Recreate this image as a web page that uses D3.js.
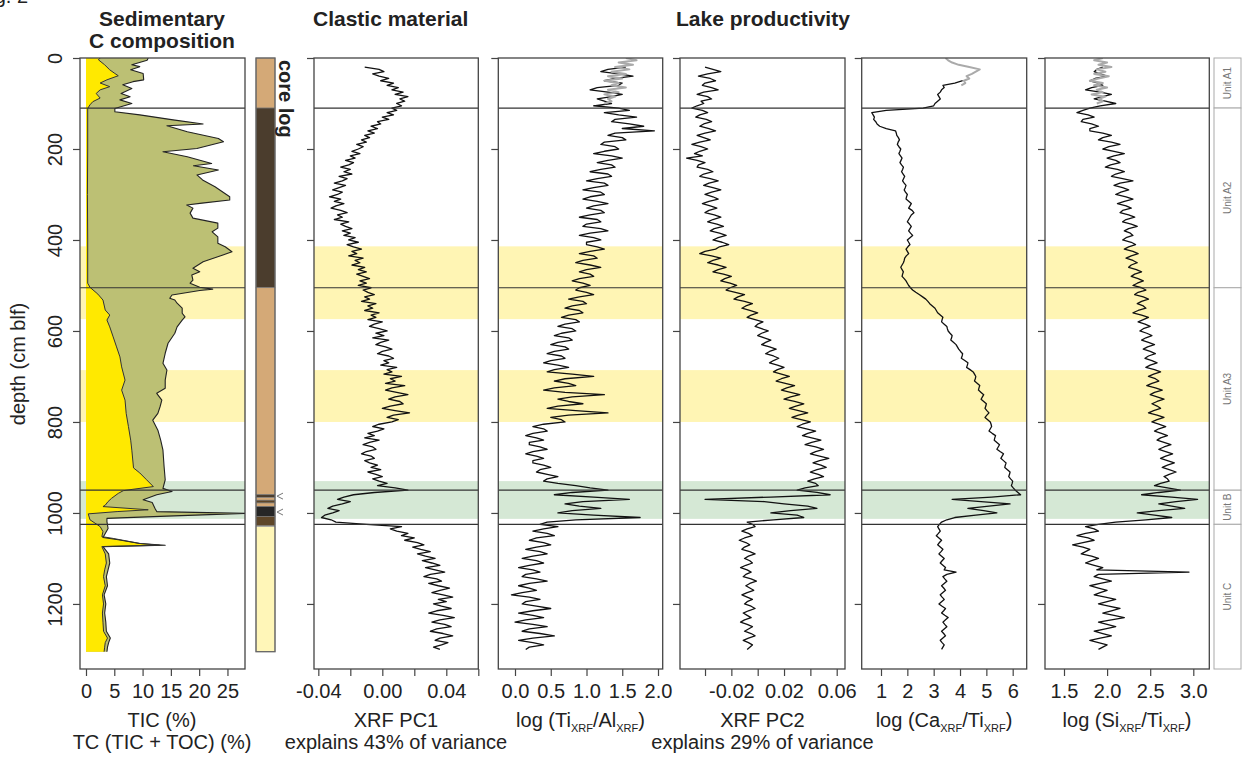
<!DOCTYPE html>
<html><head><meta charset="utf-8">
<script src="https://cdn.jsdelivr.net/npm/d3@7"></script>
<style>
body{margin:0;background:#fff}
svg{display:block}
text{font-family:"Liberation Sans",Arial,Helvetica,sans-serif;fill:#222}
</style>
</head><body>
<svg id="c" width="1246" height="767"></svg>
<script>
// ---------------- DATA ----------------
const depthTicks = [0,200,400,600,800,1000,1200];
const depthTickLabels = ["0","200","400","600","800","1000","1200"];

const unitNames  = ["Unit A1","Unit A2","Unit A3","Unit B","Unit C"];
const unitTop    = [0,110,505,950,1025];
const unitBottom = [110,505,950,1025,1343];
const unitBounds = [110,505,950,1025];

const bandTop    = [414,686,930];
const bandBottom = [574,800,1013];
const bandType   = ["yellow","yellow","green"];

const coreTop    = [0,110,505,960,966,972,978,986,1008,1030];
const coreBottom = [110,505,960,966,972,978,986,1008,1028,1305];
const coreType   = ["tan","dark","tan","dark","tan","brown","tan","black","brown","pale"];
const coreMarks  = [963,998];

// Sedimentary C composition
const tcDepth = [0,5,15,19,26,34,48,52,59,67,78,85,92,100,111,118,125,136,145,149,162,177,184,199,206,217,232,237,246,257,268,283,305,312,319,323,330,341,352,363,374,382,393,407,415,426,433,448,462,470,477,488,495,504,508,511,521,528,532,539,550,561,569,576,591,605,627,649,671,686,708,726,737,752,766,781,796,818,840,862,898,927,946,953,960,971,977,990,997,1001,1007,1012,1019,1034,1045,1054,1059,1067,1071,1074,1090,1110,1125,1140,1160,1180,1200,1220,1240,1260,1275,1285,1295,1305];
const tcValue = [11.0,10.8,8.1,9.5,7.9,10.1,10.2,8.3,6.5,8.1,6.2,7.8,6.0,8.1,5.1,5.1,9.5,15.4,20.7,14.3,17.9,23.4,24.3,19.6,13.6,17.9,22.2,19.0,23.4,19.6,20.6,22.8,25.4,25.4,20.5,17.8,18.9,18.4,18.9,23.3,23.3,22.3,23.3,23.3,24.6,25.8,24.2,20.7,18.9,20.1,18.7,18.9,18.4,20.1,22.4,20.1,15.2,14.8,15.7,16.1,17.0,17.0,17.5,17.0,16.1,15.7,14.5,14.0,13.6,14.3,14.0,14.0,12.5,13.4,13.1,12.7,11.8,12.7,13.2,13.6,13.8,14.0,13.6,15.2,12.5,10.1,11.7,12.2,12.5,28.1,14.3,3.7,3.7,3.9,3.4,3.0,5.7,9.5,14.0,3.0,4.0,4.2,3.9,3.6,3.8,3.2,3.5,3.3,3.5,3.6,4.3,4.0,3.8,3.7];
const ticDepth = [0,4,15,26,34,39,48,55,63,70,78,88,96,103,111,200,300,400,495,504,519,532,554,565,576,591,613,635,657,679,708,730,752,781,810,840,862,901,912,927,942,948,951,957,968,975,983,986,993,997,1002,1015,1030,1041,1052,1056,1067,1071,1074,1090,1110,1125,1140,1160,1180,1200,1220,1240,1260,1275,1285,1295,1305];
const ticValue = [2.5,2.2,3.3,4.2,5.1,5.7,3.7,2.5,4.2,2.5,1.8,2.5,1.2,0.7,0.3,0.3,0.25,0.3,0.3,0.7,2.1,3.0,3.4,4.2,3.7,4.2,4.8,5.4,6.0,6.3,6.9,6.3,6.9,7.1,7.5,7.9,8.1,8.4,9.5,10.7,11.9,8.3,6.6,5.7,4.5,3.9,3.4,3.0,11.0,5.5,0.4,0.7,2.5,3.0,2.8,4.8,9.5,13.0,2.8,3.4,3.6,3.3,3.1,3.4,2.9,3.1,2.9,3.0,3.1,3.8,3.4,3.3,3.2];

// XRF series (black), sampled every 5 cm
const xrfDepth = [
 20,25,30,35,40,45,50,55,60,65,70,75,80,85,90,95,100,105,110,115,
 120,125,130,135,140,145,150,155,160,165,170,175,180,185,190,195,200,205,210,215,
 220,225,230,235,240,245,250,255,260,265,270,275,280,285,290,295,300,305,310,315,
 320,325,330,335,340,345,350,355,360,365,370,375,380,385,390,395,400,405,410,415,
 420,425,430,435,440,445,450,455,460,465,470,475,480,485,490,495,500,505,510,515,
 520,525,530,535,540,545,550,555,560,565,570,575,580,585,590,595,600,605,610,615,
 620,625,630,635,640,645,650,655,660,665,670,675,680,685,690,695,700,705,710,715,
 720,725,730,735,740,745,750,755,760,765,770,775,780,785,790,795,800,805,810,815,
 820,825,830,835,840,845,850,855,860,865,870,875,880,885,890,895,900,905,910,915,
 920,925,930,935,940,945,950,955,960,965,970,975,980,985,990,995,1000,1005,1010,1015,
 1020,1025,1030,1035,1040,1045,1050,1055,1060,1065,1070,1075,1080,1085,1090,1095,1100,1105,1110,1115,
 1120,1125,1130,1135,1140,1145,1150,1155,1160,1165,1170,1175,1180,1185,1190,1195,1200,1205,1210,1215,
 1220,1225,1230,1235,1240,1245,1250,1255,1260,1265,1270,1275,1280,1285,1290,1295,1300];
const pc1 = [
 -0.011,-0.002,0.001,-0.006,-0.002,0.004,-0.001,0.007,0.003,0.010,0.006,0.013,0.008,0.016,0.011,0.014,0.009,0.012,0.006,0.009,
 0.003,0.007,0.000,0.004,-0.003,-0.001,-0.007,-0.003,-0.009,-0.005,-0.011,-0.008,-0.013,-0.010,-0.016,-0.012,-0.015,-0.019,-0.014,-0.020,
 -0.017,-0.023,-0.018,-0.021,-0.026,-0.020,-0.024,-0.019,-0.027,-0.022,-0.025,-0.030,-0.023,-0.027,-0.031,-0.025,-0.028,-0.033,-0.026,-0.030,
 -0.024,-0.029,-0.032,-0.026,-0.022,-0.028,-0.025,-0.030,-0.021,-0.026,-0.023,-0.019,-0.025,-0.020,-0.024,-0.017,-0.021,-0.015,-0.022,-0.018,
 -0.013,-0.019,-0.016,-0.021,-0.012,-0.017,-0.014,-0.019,-0.011,-0.015,-0.010,-0.016,-0.012,-0.008,-0.014,-0.010,-0.015,-0.007,-0.012,-0.009,
 -0.005,-0.011,-0.008,-0.013,-0.004,-0.009,-0.006,-0.011,-0.002,-0.007,-0.004,-0.009,0.000,-0.005,-0.008,-0.002,0.003,-0.004,0.001,-0.006,
 0.004,-0.001,-0.004,0.002,0.006,0.000,-0.003,0.004,0.007,0.001,0.004,-0.001,0.009,0.003,0.006,0.001,0.012,0.005,0.008,0.002,
 0.014,0.006,0.002,0.009,0.016,0.008,0.004,0.011,0.013,0.005,0.000,0.008,0.017,0.007,0.003,0.010,0.006,-0.002,-0.006,0.001,
 -0.003,-0.009,-0.005,-0.011,-0.002,-0.008,-0.012,-0.006,-0.004,-0.010,-0.013,-0.007,-0.005,-0.011,-0.008,-0.003,-0.007,-0.001,-0.009,-0.004,
 0.000,-0.006,-0.002,0.003,-0.003,0.008,0.016,-0.005,-0.018,-0.024,-0.028,-0.020,-0.025,-0.031,-0.034,-0.027,-0.031,-0.036,-0.038,-0.032,
 -0.029,-0.010,0.012,0.005,0.009,0.016,0.012,0.020,0.014,0.022,0.026,0.019,0.024,0.030,0.022,0.027,0.033,0.025,0.031,0.036,
 0.027,0.033,0.039,0.030,0.026,0.034,0.037,0.029,0.035,0.042,0.036,0.031,0.038,0.044,0.035,0.040,0.032,0.037,0.043,0.034,
 0.029,0.038,0.045,0.036,0.031,0.039,0.043,0.034,0.030,0.038,0.044,0.036,0.033,0.041,0.037,0.032,0.036];
const tiAl = [
 1.55,1.30,1.20,1.45,1.65,1.40,1.25,1.50,1.45,1.15,1.05,1.30,1.50,1.35,1.15,1.25,1.35,1.10,1.45,1.60,
 1.25,1.45,1.70,1.40,1.35,1.60,1.80,1.50,1.95,1.40,1.30,1.50,1.55,1.25,1.20,1.40,1.45,1.25,1.10,1.35,
 1.50,1.30,1.15,1.35,1.40,1.20,1.05,1.30,1.35,1.15,1.00,1.25,1.30,1.10,0.95,1.20,1.25,1.05,0.95,1.15,
 1.30,1.10,1.00,1.20,1.25,1.05,0.90,1.15,1.20,1.00,0.95,1.20,1.30,1.05,0.90,1.10,1.20,1.00,1.00,1.15,
 1.25,1.05,0.90,1.10,1.15,0.95,0.85,1.05,1.20,1.00,0.90,1.05,1.10,0.90,0.80,0.95,1.05,0.90,0.85,1.00,
 1.10,0.90,0.75,0.95,1.00,0.80,0.70,0.90,0.95,0.75,0.65,0.85,0.90,0.70,0.60,0.80,0.85,0.65,0.55,0.75,
 0.80,0.60,0.50,0.70,0.75,0.55,0.45,0.65,0.70,0.50,0.40,0.60,0.75,0.55,0.45,0.80,1.10,0.70,0.55,0.75,
 0.85,0.55,0.40,0.70,1.25,0.80,0.60,0.75,0.95,0.60,0.45,0.85,1.30,0.75,0.50,0.65,0.70,0.40,0.25,0.40,
 0.45,0.25,0.15,0.30,0.40,0.20,0.20,0.35,0.45,0.25,0.15,0.30,0.40,0.25,0.25,0.40,0.50,0.35,0.30,0.45,
 0.60,0.45,0.40,0.60,0.85,1.05,1.30,0.80,0.55,1.10,1.60,0.95,0.70,0.90,1.20,0.80,0.60,1.10,1.75,0.85,
 0.45,0.35,0.60,0.40,0.25,0.45,0.55,0.30,0.20,0.40,0.50,0.30,0.15,0.35,0.45,0.25,0.10,0.30,0.40,0.20,
 0.05,0.25,0.35,0.15,0.10,0.30,0.45,0.20,0.05,0.20,0.30,0.10,-0.05,0.20,0.35,0.15,0.10,0.30,0.50,0.25,
 0.05,0.25,0.40,0.15,0.00,0.25,0.45,0.20,0.10,0.35,0.55,0.25,0.05,0.25,0.40,0.20,0.15];
const pc2 = [
 -0.040,-0.034,-0.028,-0.038,-0.045,-0.036,-0.032,-0.040,-0.042,-0.035,-0.030,-0.041,-0.046,-0.038,-0.035,-0.043,-0.041,-0.046,-0.050,-0.042,
 -0.038,-0.044,-0.047,-0.039,-0.035,-0.041,-0.044,-0.037,-0.032,-0.040,-0.046,-0.041,-0.036,-0.044,-0.050,-0.043,-0.038,-0.044,-0.048,-0.042,
 -0.054,-0.046,-0.040,-0.045,-0.046,-0.038,-0.034,-0.041,-0.044,-0.036,-0.030,-0.037,-0.041,-0.034,-0.028,-0.035,-0.040,-0.034,-0.030,-0.037,
 -0.042,-0.036,-0.031,-0.037,-0.040,-0.033,-0.028,-0.034,-0.038,-0.031,-0.026,-0.033,-0.036,-0.029,-0.024,-0.030,-0.034,-0.027,-0.022,-0.029,
 -0.032,-0.040,-0.044,-0.035,-0.028,-0.034,-0.038,-0.030,-0.024,-0.030,-0.034,-0.026,-0.020,-0.025,-0.028,-0.021,-0.016,-0.021,-0.024,-0.017,
 -0.010,-0.015,-0.018,-0.010,-0.004,-0.009,-0.012,-0.006,0.000,-0.005,-0.008,-0.002,0.004,0.000,-0.002,0.003,0.008,0.003,0.000,0.005,
 0.010,0.006,0.003,0.009,0.014,0.009,0.006,0.012,0.016,0.012,0.009,0.015,0.020,0.015,0.012,0.018,0.024,0.018,0.014,0.021,
 0.028,0.022,0.018,0.025,0.032,0.025,0.020,0.028,0.035,0.029,0.024,0.031,0.038,0.031,0.026,0.033,0.040,0.034,0.030,0.037,
 0.044,0.038,0.034,0.041,0.048,0.041,0.036,0.044,0.050,0.044,0.040,0.047,0.054,0.047,0.042,0.048,0.052,0.045,0.040,0.046,
 0.050,0.043,0.038,0.044,0.046,0.036,0.030,0.045,0.055,0.010,-0.040,0.005,0.020,0.038,0.045,0.025,0.010,0.030,0.035,0.012,
 -0.008,-0.004,-0.002,-0.008,-0.012,-0.007,-0.004,-0.010,-0.014,-0.009,-0.006,-0.010,-0.012,-0.006,-0.002,-0.007,-0.010,-0.006,-0.004,-0.009,
 -0.013,-0.008,-0.005,-0.009,-0.011,-0.005,-0.001,-0.006,-0.009,-0.006,-0.003,-0.008,-0.012,-0.008,-0.004,-0.008,-0.010,-0.005,-0.002,-0.007,
 -0.011,-0.008,-0.005,-0.010,-0.013,-0.008,-0.004,-0.007,-0.010,-0.005,-0.002,-0.007,-0.011,-0.007,-0.004,-0.006,-0.008];
const caTi = [
 null,null,null,null,null,null,4.10,3.80,3.35,3.40,3.30,3.25,3.15,3.20,3.25,3.15,3.05,3.00,2.60,1.20,
 0.65,0.70,0.75,0.72,0.80,0.85,0.95,1.20,1.55,1.58,1.60,1.66,1.70,1.65,1.62,1.68,1.75,1.72,1.68,1.74,
 1.80,1.76,1.72,1.78,1.85,1.82,1.78,1.84,1.90,1.86,1.82,1.88,1.95,1.92,1.88,1.93,2.00,1.97,1.95,2.05,
 2.15,2.10,2.05,2.18,2.25,2.15,2.10,2.05,2.00,2.08,2.15,2.10,2.05,2.12,2.20,2.10,2.00,2.05,2.10,2.02,
 1.95,2.00,2.05,1.96,1.90,1.88,1.85,1.80,1.75,1.80,1.85,1.82,1.80,1.88,1.95,2.00,2.05,2.12,2.20,2.32,
 2.45,2.58,2.70,2.78,2.85,2.95,3.05,3.10,3.15,3.25,3.35,3.32,3.30,3.40,3.50,3.52,3.55,3.62,3.70,3.68,
 3.65,3.75,3.85,3.90,3.95,4.02,4.10,4.08,4.05,4.18,4.30,4.28,4.25,4.38,4.50,4.55,4.60,4.58,4.55,4.65,
 4.75,4.72,4.70,4.80,4.90,4.85,4.80,4.90,5.00,4.98,4.95,5.02,5.10,5.02,4.95,5.05,5.15,5.18,5.20,5.15,
 5.10,5.22,5.35,5.32,5.30,5.40,5.50,5.45,5.40,5.52,5.65,5.60,5.55,5.65,5.75,5.72,5.70,5.80,5.90,5.88,
 5.85,5.92,6.00,5.98,5.95,6.02,6.10,6.20,6.30,5.20,3.70,4.80,5.90,5.10,4.30,4.90,5.40,4.60,3.80,3.50,
 3.30,3.22,3.15,3.20,3.25,3.18,3.10,3.20,3.30,3.22,3.15,3.25,3.35,3.28,3.20,3.30,3.40,3.32,3.25,3.35,
 3.45,3.40,3.85,3.50,3.35,3.42,3.50,3.40,3.30,3.38,3.45,3.35,3.25,3.32,3.40,3.30,3.20,3.32,3.45,3.38,
 3.30,3.42,3.55,3.45,3.35,3.42,3.50,3.40,3.30,3.38,3.45,3.35,3.25,3.32,3.40,3.35,3.30];
const siTi = [
 1.95,1.88,1.85,1.92,2.00,1.86,1.80,1.90,1.95,1.82,1.75,1.92,2.05,1.95,1.85,1.98,2.10,1.92,1.80,1.72,
 1.65,1.78,1.85,1.72,1.70,1.82,1.90,1.80,1.80,1.95,2.05,1.95,1.90,2.05,2.15,2.02,1.95,2.08,2.20,2.08,
 2.00,2.10,2.15,2.04,1.98,2.12,2.20,2.10,2.05,2.18,2.30,2.15,2.08,2.18,2.25,2.16,2.10,2.22,2.30,2.20,
 2.12,2.22,2.28,2.18,2.15,2.25,2.32,2.22,2.18,2.28,2.35,2.25,2.20,2.27,2.30,2.22,2.18,2.28,2.33,2.25,
 2.20,2.30,2.36,2.28,2.22,2.30,2.35,2.28,2.25,2.34,2.40,2.32,2.28,2.36,2.42,2.35,2.30,2.40,2.45,2.36,
 2.32,2.42,2.48,2.40,2.35,2.42,2.45,2.36,2.30,2.40,2.48,2.42,2.36,2.44,2.50,2.42,2.38,2.46,2.52,2.45,
 2.40,2.48,2.55,2.47,2.42,2.50,2.56,2.48,2.44,2.52,2.58,2.50,2.45,2.55,2.62,2.54,2.48,2.56,2.60,2.52,
 2.46,2.56,2.64,2.55,2.50,2.58,2.66,2.58,2.52,2.58,2.62,2.54,2.48,2.58,2.66,2.58,2.52,2.60,2.68,2.60,
 2.55,2.63,2.70,2.62,2.58,2.66,2.74,2.66,2.60,2.68,2.76,2.68,2.62,2.70,2.78,2.70,2.64,2.72,2.80,2.72,
 2.66,2.70,2.72,2.62,2.55,2.70,2.85,2.60,2.40,2.75,3.05,2.80,2.60,2.75,2.90,2.60,2.35,2.55,2.75,2.45,
 2.10,1.90,1.75,1.85,1.90,1.75,1.65,1.78,1.85,1.72,1.60,1.72,1.80,1.75,1.70,1.82,1.90,1.82,1.75,1.85,
 1.95,1.88,2.95,1.90,1.85,1.95,2.05,1.92,1.80,1.90,2.00,1.92,1.85,1.98,2.10,2.00,1.90,2.02,2.15,2.05,
 1.95,2.08,2.20,2.05,1.90,2.00,2.10,1.98,1.85,1.95,2.05,1.92,1.80,1.90,2.00,1.95,1.90];

// upper-core overlapping series (grey)
const grayDepth = [0,5,10,15,20,25,30,35,40,45,50,55,60,65,70,75,80,85,90,95,100];
const tiAlGray = [1.55,1.70,1.45,1.65,1.40,1.60,1.35,1.55,1.30,1.50,1.25,1.45,1.35,1.55,1.30,1.45,1.25,1.40,1.30,1.35,1.25];
const caTiGray = [3.45,3.55,3.70,3.95,4.35,4.75,4.60,4.45,4.25,4.35,4.15,4.20,4.05,null,null,null,null,null,null,null,null];
const siTiGray = [1.95,1.85,2.00,1.90,2.05,1.88,1.98,1.85,2.02,1.90,1.80,1.95,1.85,2.00,1.88,1.95,1.82,1.98,1.90,1.95,1.88];

// axis ticks & labels
const p1Ticks = [0,5,10,15,20,25];              const p1Labels = ["0","5","10","15","20","25"];
const p2Ticks = [-0.04,-0.02,0,0.02,0.04,0.06]; const p2Labels = ["-0.04","","0.00","","0.04",""];
const p3Ticks = [0,0.5,1,1.5,2];                const p3Labels = ["0.0","0.5","1.0","1.5","2.0"];
const p4Ticks = [-0.04,-0.02,0,0.02,0.04,0.06]; const p4Labels = ["","-0.02","","0.02","","0.06"];
const p5Ticks = [1,2,3,4,5,6];                  const p5Labels = ["1","2","3","4","5","6"];
const p6Ticks = [1.5,2,2.5,3];                  const p6Labels = ["1.5","2.0","2.5","3.0"];

// ---------------- LAYOUT / STYLE ----------------
const TOP = 58, BOT = 669;
const C = {band:{yellow:"#fff5b4",green:"#d5e8d5"}, frame:"#444", line:"#111", gray:"#aaaaaa",
  tc:"#bcc074", tic:"#ffe900",
  core:{tan:"#d4a977",dark:"#4b3d2d",brown:"#5e4628",black:"#262626",pale:"#fff6b8"}};
const panels = [
 {l:80,    r:245,    dom:[-1.06,28.1],     ticks:p1Ticks, labels:p1Labels},
 {l:314,   r:478.3,  dom:[-0.0427,0.06],   ticks:p2Ticks, labels:p2Labels},
 {l:498.3, r:662.7,  dom:[-0.2336,2.0657], ticks:p3Ticks, labels:p3Labels},
 {l:680,   r:845,    dom:[-0.059,0.0663],  ticks:p4Ticks, labels:p4Labels},
 {l:861.7, r:1026.7, dom:[0.267,6.532],    ticks:p5Ticks, labels:p5Labels},
 {l:1045,  r:1209.3, dom:[1.2796,3.1856],  ticks:p6Ticks, labels:p6Labels}
];

const svg = d3.select("#c");
const Y = d3.scaleLinear().domain([0,1343]).range([TOP,BOT]);
const defs = svg.append("defs");

function drawPanel(i, drawData){
  const p = panels[i];
  const X = d3.scaleLinear().domain(p.dom).range([p.l,p.r]);
  defs.append("clipPath").attr("id","clip"+i).append("rect")
    .attr("x",p.l).attr("y",TOP).attr("width",p.r-p.l).attr("height",BOT-TOP);
  const g = svg.append("g");
  g.selectAll("rect.band").data(bandTop).join("rect").attr("class","band")
    .attr("x",p.l).attr("width",p.r-p.l)
    .attr("y",d=>Y(d)).attr("height",(d,k)=>Y(bandBottom[k])-Y(d))
    .attr("fill",(d,k)=>C.band[bandType[k]]);
  const dg = g.append("g").attr("clip-path",`url(#clip${i})`);
  drawData(dg, X);
  g.selectAll("line.ub").data(unitBounds).join("line").attr("class","ub")
    .attr("x1",p.l).attr("x2",p.r).attr("y1",d=>Y(d)).attr("y2",d=>Y(d))
    .attr("stroke","#333").attr("stroke-width",1.2);
  g.append("rect").attr("x",p.l).attr("y",TOP).attr("width",p.r-p.l).attr("height",BOT-TOP)
    .attr("fill","none").attr("stroke",C.frame).attr("stroke-width",1.3);
  const ax = g.append("g").attr("transform",`translate(0,${BOT})`)
    .call(d3.axisBottom(X).tickValues(p.ticks).tickFormat((d,k)=>p.labels[k]).tickSize(7).tickSizeOuter(0));
  ax.select(".domain").remove();
  ax.selectAll(".tick line").attr("stroke",C.frame).attr("stroke-width",1.2);
  ax.selectAll(".tick text").attr("y",29).attr("dy",null).attr("font-size",20)
    .attr("font-family","Liberation Sans, Arial, sans-serif").attr("fill","#222");
  const ay = g.append("g").attr("transform",`translate(${p.l},0)`)
    .call(d3.axisLeft(Y).tickValues(depthTicks)
      .tickFormat((d,k)=> i===0 ? depthTickLabels[k] : "").tickSize(7).tickSizeOuter(0));
  ay.select(".domain").remove();
  ay.selectAll(".tick line").attr("stroke",C.frame).attr("stroke-width",1.2);
  ay.selectAll(".tick text").attr("x",0).attr("y",0).attr("dy",null)
    .attr("transform","translate(-18,0) rotate(-90)").attr("text-anchor","middle")
    .attr("font-size",20).attr("font-family","Liberation Sans, Arial, sans-serif").attr("fill","#222");
  return X;
}

function seriesLine(g, X, depth, vals, color, width){
  const line = d3.line().defined(d=>d!=null).x(d=>X(d)).y((d,k)=>Y(depth[k]));
  g.append("path").attr("d",line(vals)).attr("fill","none").attr("stroke",color)
    .attr("stroke-width",width).attr("stroke-linejoin","round");
}

drawPanel(0,(g,X)=>{
  const areaTC = d3.area().x0(X(0)).x1(d=>X(d)).y((d,k)=>Y(tcDepth[k]));
  const areaTIC = d3.area().x0(X(0)).x1(d=>X(d)).y((d,k)=>Y(ticDepth[k]));
  g.append("path").attr("d",areaTC(tcValue)).attr("fill",C.tc);
  g.append("path").attr("d",areaTIC(ticValue)).attr("fill",C.tic);
  seriesLine(g,X,tcDepth,tcValue,"#222",1.1);
  seriesLine(g,X,ticDepth,ticValue,"#333",1.0);
});
drawPanel(1,(g,X)=>{ seriesLine(g,X,xrfDepth,pc1,C.line,1.3); });
drawPanel(2,(g,X)=>{ seriesLine(g,X,xrfDepth,tiAl,C.line,1.3); seriesLine(g,X,grayDepth,tiAlGray,C.gray,2); });
drawPanel(3,(g,X)=>{ seriesLine(g,X,xrfDepth,pc2,C.line,1.3); });
drawPanel(4,(g,X)=>{ seriesLine(g,X,xrfDepth,caTi,C.line,1.3); seriesLine(g,X,grayDepth,caTiGray,C.gray,2); });
drawPanel(5,(g,X)=>{ seriesLine(g,X,xrfDepth,siTi,C.line,1.3); seriesLine(g,X,grayDepth,siTiGray,C.gray,2); });

// core log
const core = svg.append("g");
const CL = 256, CR = 275;
core.selectAll("rect.seg").data(coreTop).join("rect").attr("class","seg")
  .attr("x",CL).attr("width",CR-CL).attr("y",d=>Y(d)).attr("height",(d,k)=>Y(coreBottom[k])-Y(d))
  .attr("fill",(d,k)=>C.core[coreType[k]]).attr("stroke","#777").attr("stroke-width",0.6);
core.append("rect").attr("x",CL).attr("y",Y(0)).attr("width",CR-CL).attr("height",Y(1305)-Y(0))
  .attr("fill","none").attr("stroke","#666").attr("stroke-width",1.3);
core.selectAll("path.mark").data(coreMarks).join("path").attr("class","mark")
  .attr("d",d=>`M${CR+8},${Y(d)-3} L${CR+2},${Y(d)} L${CR+8},${Y(d)+3}`)
  .attr("fill","none").attr("stroke","#777").attr("stroke-width",1);
svg.append("text").attr("transform",`translate(279,60) rotate(90)`)
  .attr("font-size",20).attr("font-weight","bold").text("core log");

// unit column
const UL = 1214, UR = 1241;
const ug = svg.append("g");
ug.selectAll("rect").data(unitTop).join("rect")
  .attr("x",UL).attr("width",UR-UL).attr("y",d=>Y(d)).attr("height",(d,k)=>Y(unitBottom[k])-Y(d))
  .attr("fill","#fff").attr("stroke","#aaa").attr("stroke-width",1);
ug.selectAll("text").data(unitNames).join("text")
  .attr("transform",(d,k)=>`translate(${(UL+UR)/2+3.5},${Y((unitTop[k]+unitBottom[k])/2)}) rotate(-90)`)
  .attr("text-anchor","middle").attr("font-size",10).style("fill","#777").text(d=>d);

// titles
svg.append("text").attr("x",-22).attr("y",3).attr("font-size",20).text("Fig. 2");
svg.append("text").attr("x",162).attr("y",26).attr("text-anchor","middle").attr("font-size",21).attr("font-weight","bold").text("Sedimentary");
svg.append("text").attr("x",162).attr("y",48).attr("text-anchor","middle").attr("font-size",21).attr("font-weight","bold").text("C composition");
svg.append("text").attr("x",313).attr("y",26).attr("font-size",21).attr("font-weight","bold").text("Clastic material");
svg.append("text").attr("x",676).attr("y",26).attr("font-size",21).attr("font-weight","bold").text("Lake productivity");

svg.append("text").attr("transform","translate(25,364) rotate(-90)").attr("text-anchor","middle")
  .attr("font-size",20).text("depth (cm blf)");

function xTitle(cx, y, parts){
  const t = svg.append("text").attr("x",cx).attr("y",y).attr("text-anchor","middle").attr("font-size",20);
  let lastSub = false;
  parts.forEach(([s,sub])=>{
    const ts = t.append("tspan").text(s);
    if(sub){ ts.attr("dy",5).attr("font-size",11); }
    else if(lastSub){ ts.attr("dy",-5); }
    lastSub = sub;
  });
}
xTitle(162,727,[["TIC (%)",false]]);
xTitle(162,749,[["TC (TIC + TOC) (%)",false]]);
xTitle(396,727,[["XRF PC1",false]]);
xTitle(396,749,[["explains 43% of variance",false]]);
xTitle(580.5,727,[["log (Ti",false],["XRF",true],["/Al",false],["XRF",true],[")",false]]);
xTitle(762.5,727,[["XRF PC2",false]]);
xTitle(762.5,749,[["explains 29% of variance",false]]);
xTitle(944,727,[["log (Ca",false],["XRF",true],["/Ti",false],["XRF",true],[")",false]]);
xTitle(1127,727,[["log (Si",false],["XRF",true],["/Ti",false],["XRF",true],[")",false]]);
</script>
</body></html>
